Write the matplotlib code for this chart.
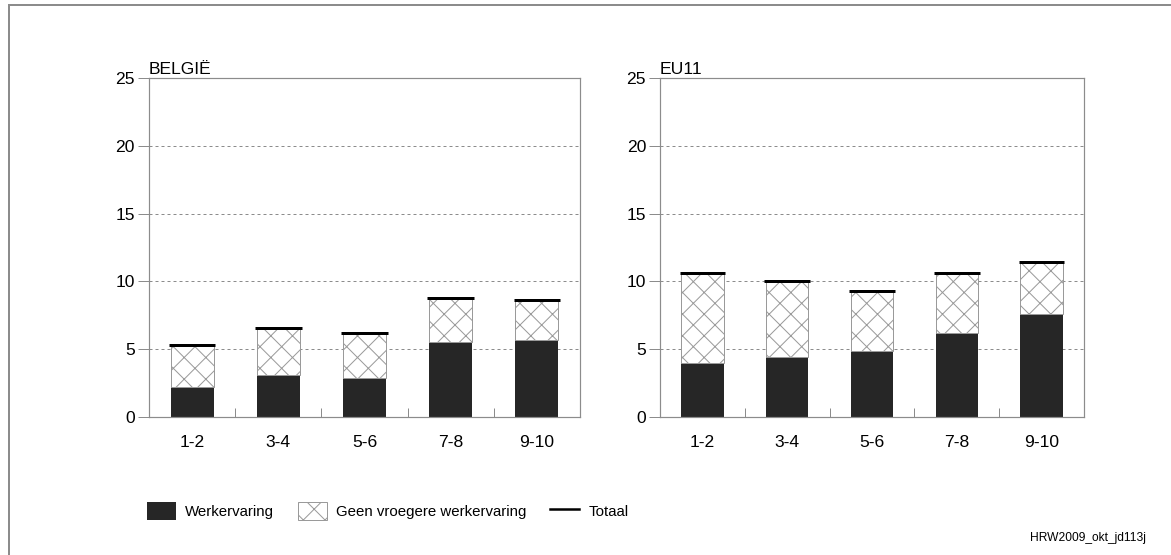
import numpy as np
import matplotlib
matplotlib.use("Agg")
import matplotlib.pyplot as plt
from matplotlib.patches import Patch
from matplotlib.lines import Line2D

# ---- data ----
categories = ["1-2", "3-4", "5-6", "7-8", "9-10"]
be_werk = [2.2, 3.1, 2.85, 5.5, 5.7]
be_geen = [3.1, 3.45, 3.35, 3.3, 2.95]
be_totaal = [5.3, 6.55, 6.2, 8.8, 8.65]
eu_werk = [4.0, 4.4, 4.9, 6.2, 7.6]
eu_geen = [6.6, 5.65, 4.4, 4.4, 3.8]
eu_totaal = [10.6, 10.05, 9.3, 10.6, 11.4]
yticks = [0, 5, 10, 15, 20, 25]
panel_titles = ["BELGIË", "EU11"]
legend_labels = ["Werkervaring", "Geen vroegere werkervaring", "Totaal"]
footer = "HRW2009_okt_jd113j"

# ---- style ----
DPI = 130
W, H = 1171, 555
def pt(p):
    return p * 72.0 / DPI

plt.rcParams['font.family'] = ['Liberation Sans', 'DejaVu Sans']
plt.rcParams['hatch.linewidth'] = pt(1.0)
plt.rcParams['lines.scale_dashes'] = False

BLACK = '#262626'
GREY = '#8c8c8c'
HATCH = '#9a9a9a'
FS_TICK = pt(17.5)
FS_LEG = pt(15)

fig = plt.figure(figsize=(W / DPI, H / DPI), dpi=DPI)
fig.patch.set_facecolor('white')

axL = fig.add_axes([149 / W, 1 - 417 / H, (580 - 149) / W, (417 - 78) / H])
axR = fig.add_axes([660 / W, 1 - 417 / H, (1084 - 660) / W, (417 - 78) / H])

panels = [(axL, be_werk, be_geen, be_totaal, panel_titles[0]),
          (axR, eu_werk, eu_geen, eu_totaal, panel_titles[1])]

for ax, werk, geen, totaal, title in panels:
    x = np.arange(len(categories))
    ax.set_axisbelow(True)
    ax.bar(x, werk, 0.5, color=BLACK, linewidth=0, zorder=2)
    ax.bar(x, geen, 0.5, bottom=werk, facecolor='white', edgecolor=HATCH,
           hatch='xx', linewidth=pt(1.0), zorder=2)
    ax.hlines(totaal, x - 0.27, x + 0.27, color='black', linewidth=pt(3), zorder=3)
    ax.set_xlim(-0.5, len(categories) - 0.5)
    ax.set_ylim(0, 25)
    ax.set_yticks(yticks)
    ax.set_xticks(x)
    ax.set_xticklabels(categories)
    ax.set_xticks(x[:-1] + 0.5, minor=True)
    ax.yaxis.grid(True, color=GREY, linewidth=pt(1.0), linestyle=(0, (pt(3), pt(3))))
    ax.tick_params(axis='y', length=pt(11), width=pt(1.0), color=GREY,
                   labelsize=FS_TICK, pad=pt(3))
    ax.tick_params(axis='x', which='major', length=0, labelsize=FS_TICK, pad=pt(18))
    ax.tick_params(axis='x', which='minor', direction='in', length=pt(9),
                   width=pt(1.0), color=GREY)
    for s in ax.spines.values():
        s.set_color(GREY)
        s.set_linewidth(pt(1.2))
    ax.set_title(title, loc='left', pad=pt(4), fontsize=FS_TICK)

handles = [Patch(facecolor=BLACK, edgecolor=BLACK, linewidth=0),
           Patch(facecolor='white', edgecolor=HATCH, hatch='xx', linewidth=pt(1.0)),
           Line2D([0], [0], color='black', linewidth=pt(2.5))]
fig.legend(handles, legend_labels, loc='center left',
           bbox_to_anchor=(147 / W, 1 - 511 / H), ncol=3, frameon=False,
           fontsize=FS_LEG, handlelength=29 / 15, handleheight=21 / 15,
           handletextpad=9 / 15, columnspacing=1.6, borderpad=0,
           borderaxespad=0)

fig.text(1146 / W, 1 - 541 / H, footer, ha='right', va='baseline', fontsize=pt(12))

# outer frame (top & left)
fig.add_artist(Line2D([9 / W, 9 / W], [0, 1 - 5 / H], color=GREY, linewidth=pt(2)))
fig.add_artist(Line2D([9 / W, 1], [1 - 5 / H, 1 - 5 / H], color=GREY, linewidth=pt(2)))

fig.savefig('out.png', dpi=DPI)
